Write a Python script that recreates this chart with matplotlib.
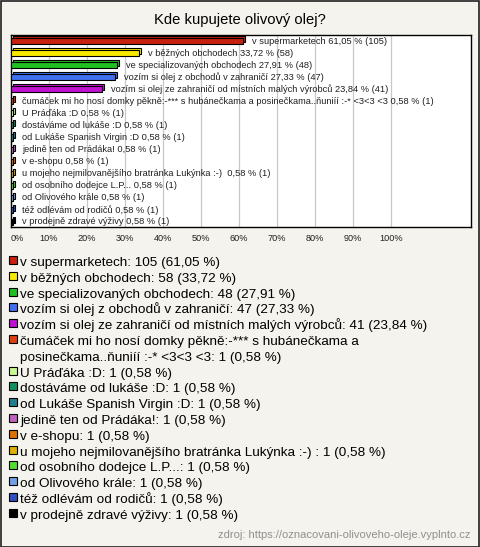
import matplotlib
matplotlib.use("Agg")
import matplotlib.pyplot as plt
from matplotlib.patches import Rectangle

plt.rcParams['font.family'] = ['Liberation Sans', 'DejaVu Sans']

# ---------------- data ----------------
title = "Kde kupujete olivový olej?"
answers = [
    "v supermarketech",
    "v běžných obchodech",
    "ve specializovaných obchodech",
    "vozím si olej z obchodů v zahraničí",
    "vozím si olej ze zahraničí od místních malých výrobců",
    "čumáček mi ho nosí domky pěkně:-*** s hubánečkama a posinečkama..ňuniíí :-* <3<3 <3",
    "U Práďáka :D",
    "dostáváme od lukáše :D",
    "od Lukáše Spanish Virgin :D",
    "jedině ten od Prádáka!",
    "v e-shopu",
    "u mojeho nejmilovanějšího bratránka Lukýnka :-) ",
    "od osobního dodejce L.P...",
    "od Olivového krále",
    "též odlévám od rodičů",
    "v prodejně zdravé výživy",
]
counts = [105, 58, 48, 47, 41, 1, 1, 1, 1, 1, 1, 1, 1, 1, 1, 1]
percents = [61.05, 33.72, 27.91, 27.33, 23.84, 0.58, 0.58, 0.58, 0.58, 0.58,
            0.58, 0.58, 0.58, 0.58, 0.58, 0.58]
colors = ["#c8200e", "#f8e800", "#20c020", "#4070f0", "#c010d0", "#e04010",
          "#c8f890", "#109060", "#208090", "#c060c0", "#e07000", "#e0b000",
          "#50e030", "#70a0e8", "#3050c0", "#000000"]
ticks = [0, 10, 20, 30, 40, 50, 60, 70, 80, 90, 100]
source = "zdroj: https://oznacovani-olivoveho-oleje.vyplnto.cz"

# legend label for the long answer is wrapped like in the original
legend_names = list(answers)
legend_names[5] = ("čumáček mi ho nosí domky pěkně:-*** s hubánečkama a\n"
                   "posinečkama..ňuniíí :-* <3<3 <3")


def fmt(v):
    return ("%.2f" % v).replace(".", ",")


W, H = 480, 547
fig = plt.figure(figsize=(W / 100, H / 100), dpi=100, facecolor="#f4f3ed")

# outer frame
fig.patches.append(Rectangle((0.5 / W, 0.5 / H), 1 - 1.5 / W, 1 - 1.5 / H,
                             transform=fig.transFigure, fill=False,
                             edgecolor="#202020", lw=1.2))

fig.text(0.5, 1 - 20 / H, title, ha="center", va="center", fontsize=10.6)

# ---------------- bar chart ----------------
ax = fig.add_axes([11 / W, 1 - 227 / H, 460 / W, 192 / H])
ax.set_facecolor("white")
n = len(answers)
ax.set_xlim(0, 460 / 380 * 100)
ax.set_ylim(n - 1 + 0.42, -0.5)

for t in ticks:
    ax.axvline(t, color="#c8c8c8", lw=0.9, zorder=0)

y = list(range(n))
dx, dy = 0.55, 0.17  # depth of the 3d look
ax.barh([v - dy for v in y], percents, left=dx, height=0.5, color=colors,
        edgecolor="black", lw=0.8, zorder=2)
ax.barh(y, percents, height=0.5, color=colors, edgecolor="black",
        lw=0.8, zorder=3)

for i in range(n):
    ax.annotate("%s %s %% (%d)" % (answers[i], fmt(percents[i]), counts[i]),
                (percents[i] + dx, i), xytext=(5, 0), textcoords="offset points",
                va="center", ha="left", fontsize=6.7, color="#202020", zorder=4)

ax.set_xticks(ticks)
ax.set_xticklabels(["%d%%" % t for t in ticks], fontsize=6.6, color="#202020")
ax.tick_params(axis="x", length=0, pad=5)
ax.get_xticklabels()[0].set_ha("left")
ax.set_yticks([])
for s in ax.spines.values():
    s.set_color("black")
    s.set_linewidth(1.0)

# ---------------- legend ----------------
line = 0
for i in range(n):
    ypx = 266 + line * 15.8
    fig.patches.append(Rectangle((9 / W, 1 - (ypx - 2) / H), 8 / W, 8 / H,
                                 transform=fig.transFigure, facecolor=colors[i],
                                 edgecolor="black", lw=0.8))
    label = "%s: %d (%s %%)" % (legend_names[i], counts[i], fmt(percents[i]))
    for part in label.split("\n"):
        fig.text(20 / W, 1 - (266 + line * 15.8) / H, part,
                 ha="left", va="baseline", fontsize=9.7)
        line += 1

fig.text(470 / W, 1 - 535 / H, source, ha="right", va="center",
         fontsize=8, color="#909090")

fig.savefig("out.png", dpi=100, facecolor=fig.get_facecolor())
